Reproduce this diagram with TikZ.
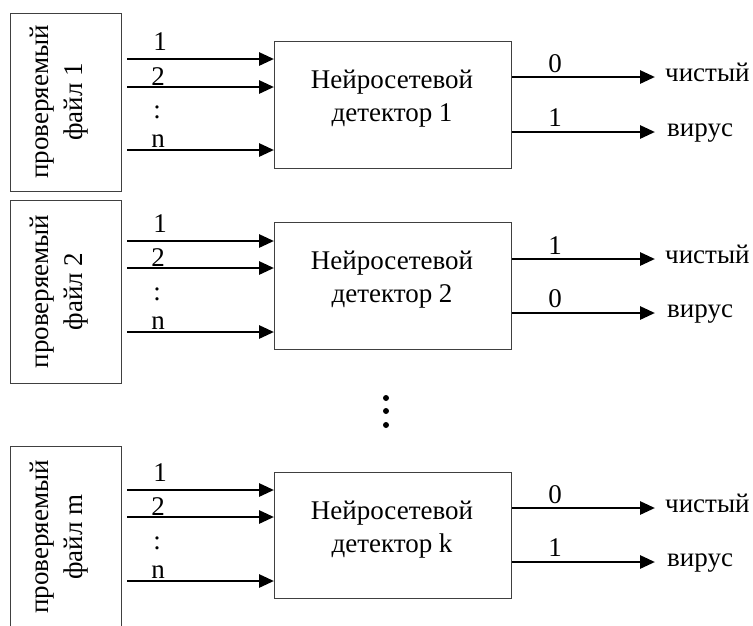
\documentclass[tikz,border=0pt]{standalone}
\usepackage{fontspec}
\setmainfont{Liberation Serif}
\usetikzlibrary{arrows.meta}
\begin{document}
\begin{tikzpicture}[x=1pt,y=-1pt,
  frame/.style={draw=black!75, line width=1.3pt, inner sep=0pt},
  sig/.style={line width=2.8pt, -{Triangle[length=15pt,width=13pt]}},
  lbl/.style={font=\fontsize{27}{34}\selectfont, inner sep=0pt},
  dot/.style={circle, fill=black, inner sep=0pt, minimum size=6pt}
]
\clip (0,0) rectangle (753,625);
\foreach \k/\ft/\fb/\dt/\db/\ia/\ib/\ic/\oa/\ob/\la/\lb/\fn/\dn in {
 1/13/191/41/168/59/87/150/77/132/0/1/1/1,
 2/200/383/222/349/241/268/332/259/313/1/0/2/2,
 3/446/628/472/598/490/517/581/508/562/0/1/m/k}{
  % file box
  \node[frame, anchor=north west, minimum width=111pt, minimum height={\fb-\ft}] (file\k) at (10,\ft) {};
  \node[lbl, rotate=90, align=center] (ftxt\k) at (59,{(\ft+\fb)/2}) {проверяемый\\файл \fn};
  % detector box
  \node[frame, anchor=north west, minimum width=237pt, minimum height={\db-\dt}] (det\k) at (274,\dt) {};
  \node[lbl, anchor=base] (dla\k) at (392,{\dt+47}) {Нейросетевой};
  \node[lbl, anchor=base] (dlb\k) at (392,{\dt+80}) {детектор \dn};
  % inputs
  \coordinate (ia\k) at (121,\ia);
  \coordinate (ib\k) at (121,\ib);
  \coordinate (ic\k) at (121,\ic);
  \draw[sig, shorten <=6pt] (ia\k) -- (ia\k -| det\k.west);
  \draw[sig, shorten <=6pt] (ib\k) -- (ib\k -| det\k.west);
  \draw[sig, shorten <=6pt] (ic\k) -- (ic\k -| det\k.west);
  \node[lbl, anchor=base] (na\k) at (160,{\ia-9}) {1};
  \node[lbl, anchor=base] (nb\k) at (158,{\ib-2}) {2};
  \node[lbl] (nd\k) at (157,{(\ib+\ic)/2-6}) {:};
  \node[lbl, anchor=base] (nc\k) at (158,{\ic-3}) {n};
  % outputs
  \coordinate (oa\k) at (655,\oa);
  \coordinate (ob\k) at (655,\ob);
  \draw[sig] (det\k.east |- oa\k) -- (oa\k);
  \draw[sig] (det\k.east |- ob\k) -- (ob\k);
  \node[lbl, anchor=base] (la\k) at (555,{\oa-5}) {\la};
  \node[lbl, anchor=base] (lb\k) at (555,{\ob-6}) {\lb};
  \node[lbl, anchor=base west] (ca\k) at (665,{\oa+4}) {чистый};
  \node[lbl, anchor=base west] (cb\k) at (667,{\ob+4}) {вирус};
}
\node[dot] (d1) at (386,398) {};
\node[dot] (d2) at (386,411) {};
\node[dot] (d3) at (386,425) {};
\end{tikzpicture}
\end{document}
